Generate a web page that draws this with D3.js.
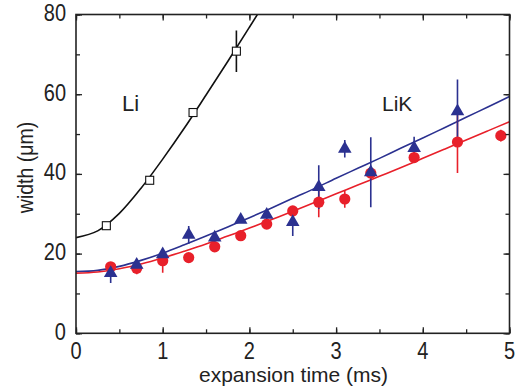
<!DOCTYPE html>
<html><head><meta charset="utf-8">
<script src="https://cdn.jsdelivr.net/npm/d3@7"></script>
<style>body{margin:0;background:#fff}svg{display:block}</style>
</head><body><svg id="c" width="523" height="392"></svg>
<script>
// Li (open squares)
const liT = [0.35, 0.85, 1.35, 1.85];
const liW = [27.0, 38.4, 55.4, 70.8];
const liErr = [0.8, 0.8, 0.8, 5.2];
// LiK red circles
const redT = [0.4, 0.7, 1.0, 1.3, 1.6, 1.9, 2.2, 2.5, 2.8, 3.1, 3.4, 3.9, 4.4, 4.9];
const redW = [16.7, 16.3, 18.2, 19.0, 21.7, 24.5, 27.4, 30.7, 32.9, 33.7, 40.2, 44.1, 48.0, 49.6];
const redErr = [1, 1.5, 3, 0.8, 1.2, 0.8, 1, 1, 3.8, 2.2, 1.5, 1.2, 7.8, 1.5];
// LiK blue triangles
const bluT = [0.4, 0.7, 1.0, 1.3, 1.6, 1.9, 2.2, 2.5, 2.8, 3.1, 3.4, 3.9, 4.4];
const bluW = [15.1, 17.2, 19.8, 24.7, 24.0, 28.5, 29.7, 27.9, 36.7, 46.3, 40.4, 46.5, 55.7];
const bluErr = [2.5, 1.2, 1, 2.2, 1, 0.8, 1.2, 3.5, 5.5, 2.2, 8.8, 2.8, 8];
// fit curves
const fitT = [0, 0.25, 0.5, 0.75, 1.0, 1.25, 1.5, 1.75, 2.0, 2.25, 2.5, 2.75, 3.0, 3.25, 3.5, 3.75, 4.0, 4.25, 4.5, 4.75, 5.0];
const blackFit = [24.0, 25.7, 30.1, 36.4, 43.7, 51.5, 59.8, 68.2, 76.8, 85.5];
const blueFit = [15.5, 15.8, 16.8, 18.3, 20.1, 22.2, 24.4, 26.7, 29.0, 31.4, 33.9, 36.3, 38.9, 41.4, 43.9, 46.5, 49.0, 51.6, 54.2, 56.8, 59.4];
const redFit = [15.1, 15.4, 16.2, 17.4, 18.9, 20.6, 22.4, 24.4, 26.4, 28.5, 30.6, 32.8, 35.0, 37.2, 39.4, 41.6, 43.9, 46.2, 48.5, 50.8, 53.1];
const xTicks = [0, 1, 2, 3, 4, 5];
const yTicks = [0, 20, 40, 60, 80];

const svg = d3.select("#c");
const L = 76, R = 509.5, T = 14.5, B = 333.3;
const x = d3.scaleLinear().domain([0, 5]).range([L, R]);
const y = d3.scaleLinear().domain([0, 80]).range([B, T]);
const red = "#e8202a", blue = "#2b3190";
const font = "Liberation Sans, Arial, sans-serif";
const ink = "#222";

svg.append("defs").append("clipPath").attr("id", "clip")
  .append("rect").attr("x", L).attr("y", T).attr("width", R - L).attr("height", B - T);

function axes() {
  const g = svg.append("g");
  const minX = d3.range(0, 5.01, 0.5), minY = d3.range(0, 80.1, 10);
  const add = (axis, tr) => g.append("g").attr("transform", tr).call(axis.tickFormat(""));
  add(d3.axisBottom(x).tickValues(minX).tickSize(-4), `translate(0,${B})`);
  add(d3.axisBottom(x).tickValues(xTicks).tickSize(-6), `translate(0,${B})`);
  add(d3.axisTop(x).tickValues(minX).tickSize(-4), `translate(0,${T})`);
  add(d3.axisTop(x).tickValues(xTicks).tickSize(-6), `translate(0,${T})`);
  add(d3.axisLeft(y).tickValues(minY).tickSize(-4), `translate(${L},0)`);
  add(d3.axisLeft(y).tickValues(yTicks).tickSize(-6), `translate(${L},0)`);
  add(d3.axisRight(y).tickValues(minY).tickSize(-4), `translate(${R},0)`);
  add(d3.axisRight(y).tickValues(yTicks).tickSize(-6), `translate(${R},0)`);
  g.selectAll(".domain").remove();
  g.selectAll("line").attr("stroke", ink).attr("stroke-width", 1.3);
  g.append("rect").attr("x", L).attr("y", T).attr("width", R - L).attr("height", B - T)
    .attr("fill", "none").attr("stroke", ink).attr("stroke-width", 1.6);
  // tick labels (slightly tall glyphs as in reference)
  g.append("g").selectAll("text").data(xTicks).join("text")
    .attr("transform", d => `translate(${x(d)},359) scale(1,1.17)`)
    .attr("text-anchor", "middle").text(d => d)
    .attr("font-family", font).attr("font-size", 20).attr("fill", ink);
  g.append("g").selectAll("text").data(yTicks).join("text")
    .attr("transform", d => `translate(66,${y(d) + 6.5}) scale(1,1.17)`)
    .attr("text-anchor", "end").text(d => d)
    .attr("font-family", font).attr("font-size", 20).attr("fill", ink);
}

const line = d3.line().curve(d3.curveCatmullRom).x(d => x(d[0])).y(d => y(d[1]));
const plot = svg.append("g").attr("clip-path", "url(#clip)");
plot.append("path").attr("d", line(blackFit.map((w, i) => [fitT[i], w])))
  .attr("fill", "none").attr("stroke", "#111").attr("stroke-width", 1.6);
plot.append("path").attr("d", line(blueFit.map((w, i) => [fitT[i], w])))
  .attr("fill", "none").attr("stroke", blue).attr("stroke-width", 1.6);
plot.append("path").attr("d", line(redFit.map((w, i) => [fitT[i], w])))
  .attr("fill", "none").attr("stroke", red).attr("stroke-width", 1.6);

function errs(T_, W, E, col) {
  plot.append("g").selectAll("line").data(T_).join("line")
    .attr("x1", d => x(d)).attr("x2", d => x(d))
    .attr("y1", (d, i) => y(W[i] - E[i])).attr("y2", (d, i) => y(W[i] + E[i]))
    .attr("stroke", col).attr("stroke-width", 1.6);
}
errs(liT, liW, liErr, "#111");
errs(redT, redW, redErr, red);
errs(bluT, bluW, bluErr, blue);

plot.append("g").selectAll("circle").data(redT).join("circle")
  .attr("cx", d => x(d)).attr("cy", (d, i) => y(redW[i])).attr("r", 5.6).attr("fill", red);
plot.append("g").selectAll("path").data(bluT).join("path")
  .attr("transform", (d, i) => `translate(${x(d)},${y(bluW[i])})`)
  .attr("d", d3.symbol().type(d3.symbolTriangle).size(80)).attr("fill", blue);
plot.append("g").selectAll("rect").data(liT).join("rect")
  .attr("x", d => x(d) - 4).attr("y", (d, i) => y(liW[i]) - 4).attr("width", 8).attr("height", 8)
  .attr("fill", "#fff").attr("stroke", "#111").attr("stroke-width", 1.1);

axes();

svg.append("text").attr("x", 122).attr("y", 111).text("Li")
  .attr("font-family", font).attr("font-size", 22).attr("fill", ink);
svg.append("text").attr("x", 382).attr("y", 111).text("LiK")
  .attr("font-family", font).attr("font-size", 21).attr("fill", ink);
svg.append("text").attr("x", 293.5).attr("y", 382).attr("text-anchor", "middle")
  .text("expansion time (ms)").attr("font-family", font).attr("font-size", 21).attr("fill", ink);
svg.append("text").attr("transform", `translate(33,167.5) rotate(-90) scale(1,1.12)`).attr("text-anchor", "middle")
  .text("width (μm)").attr("font-family", font).attr("font-size", 19.5).attr("fill", ink);
</script></body></html>
